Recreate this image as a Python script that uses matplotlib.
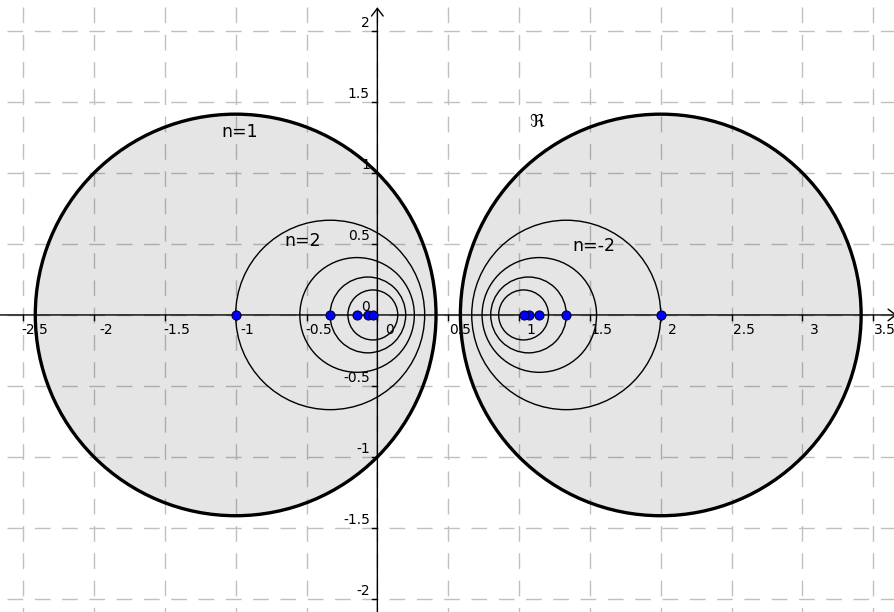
import matplotlib
matplotlib.use("Agg")
import matplotlib.pyplot as plt
from matplotlib.patches import Circle
import numpy as np

plt.rcParams['lines.scale_dashes'] = False

left_centers = [-1.0, -0.333, -0.143, -0.067, -0.032]
left_radii = [1.414, 0.667, 0.404, 0.267, 0.176]
right_centers = [2.0, 1.333, 1.143, 1.067, 1.032]
right_radii = [1.414, 0.667, 0.404, 0.267, 0.176]

x_ticks = [-2.5, -2, -1.5, -1, -0.5, 0, 0.5, 1, 1.5, 2, 2.5, 3, 3.5]
y_ticks = [-2, -1.5, -1, -0.5, 0, 0.5, 1, 1.5, 2]
x_labels = ["-2.5", "-2", "-1.5", "-1", "-0.5", "0", "0.5", "1", "1.5", "2", "2.5", "3", "3.5"]
y_labels = ["-2", "-1.5", "-1", "-0.5", "0", "0.5", "1", "1.5", "2"]

labels = ["n=1", "n=2", "n=-2"]
label_pos = [(-0.969, 1.285), (-0.526, 0.519), (1.531, 0.489)]

xmin, xmax = -2.663, 3.646
ymin, ymax = -2.092, 2.218

fig = plt.figure(figsize=(8.94, 6.12), dpi=100)
ax = fig.add_axes([0, 0, 1, 1])
ax.set_xlim(xmin, xmax)
ax.set_ylim(ymin, ymax)
ax.axis('off')

# dashed grid (drawn from left / top edges so the dash phase matches)
grid_style = dict(color='#c0c0c0', lw=1.0, linestyle=(14.6, (11.3, 8.35)), zorder=1)
for t in x_ticks:
    ax.plot([t, t], [ymax, ymin], **grid_style)
for t in y_ticks:
    ax.plot([xmin, xmax], [t, t], **grid_style)

# circles
for i, (c, r) in enumerate(zip(left_centers, left_radii)):
    if i == 0:
        ax.add_patch(Circle((c, 0), r, facecolor=(0, 0, 0, 0.1), edgecolor='black', lw=2.4, zorder=2))
    else:
        ax.add_patch(Circle((c, 0), r, fill=False, edgecolor='black', lw=1.0, zorder=4))
for i, (c, r) in enumerate(zip(right_centers, right_radii)):
    if i == 0:
        ax.add_patch(Circle((c, 0), r, facecolor=(0, 0, 0, 0.1), edgecolor='black', lw=2.4, zorder=2))
    else:
        ax.add_patch(Circle((c, 0), r, fill=False, edgecolor='black', lw=1.0, zorder=4))

# axes with arrows
arrow = dict(arrowstyle='->,head_length=0.55,head_width=0.42', lw=1.0, color='black',
             shrinkA=0, shrinkB=0)
ax.annotate('', xy=(0, 2.167), xytext=(0, ymin), arrowprops=arrow, zorder=3)
ax.annotate('', xy=(xmax + 0.02, 0), xytext=(xmin, 0), arrowprops=arrow, zorder=3,
            annotation_clip=False)

# tick marks and labels
for t, lab in zip(x_ticks, x_labels):
    ax.plot([t, t], [0, -5 / 142], color='black', lw=1.0, zorder=3)
    ax.annotate(lab, xy=(t, 0), xytext=(8.6, -10.8), textcoords='offset points',
                ha='center', va='center', fontsize=10, zorder=6)
for t, lab in zip(y_ticks, y_labels):
    ax.plot([0, -5 / 141.7], [t, t], color='black', lw=1.0, zorder=3)
    ax.annotate(lab, xy=(0, t), xytext=(-5.4, 5.4), textcoords='offset points',
                ha='right', va='center', fontsize=10, zorder=6)

# points at the centres
ax.plot(left_centers, np.zeros(len(left_centers)), 'o', ms=6.5, mfc='#0000ff',
        mec='#000033', mew=0.8, zorder=5)
ax.plot(right_centers, np.zeros(len(right_centers)), 'o', ms=6.5, mfc='#0000ff',
        mec='#000033', mew=0.8, zorder=5)

for lab, (x, y) in zip(labels, label_pos):
    ax.text(x, y, lab, ha='center', va='center', fontsize=12.5, zorder=6)
ax.text(1.127, 1.359, r'$\Re$', ha='center', va='center', fontsize=13, zorder=6)

fig.savefig('out.png', dpi=100)
